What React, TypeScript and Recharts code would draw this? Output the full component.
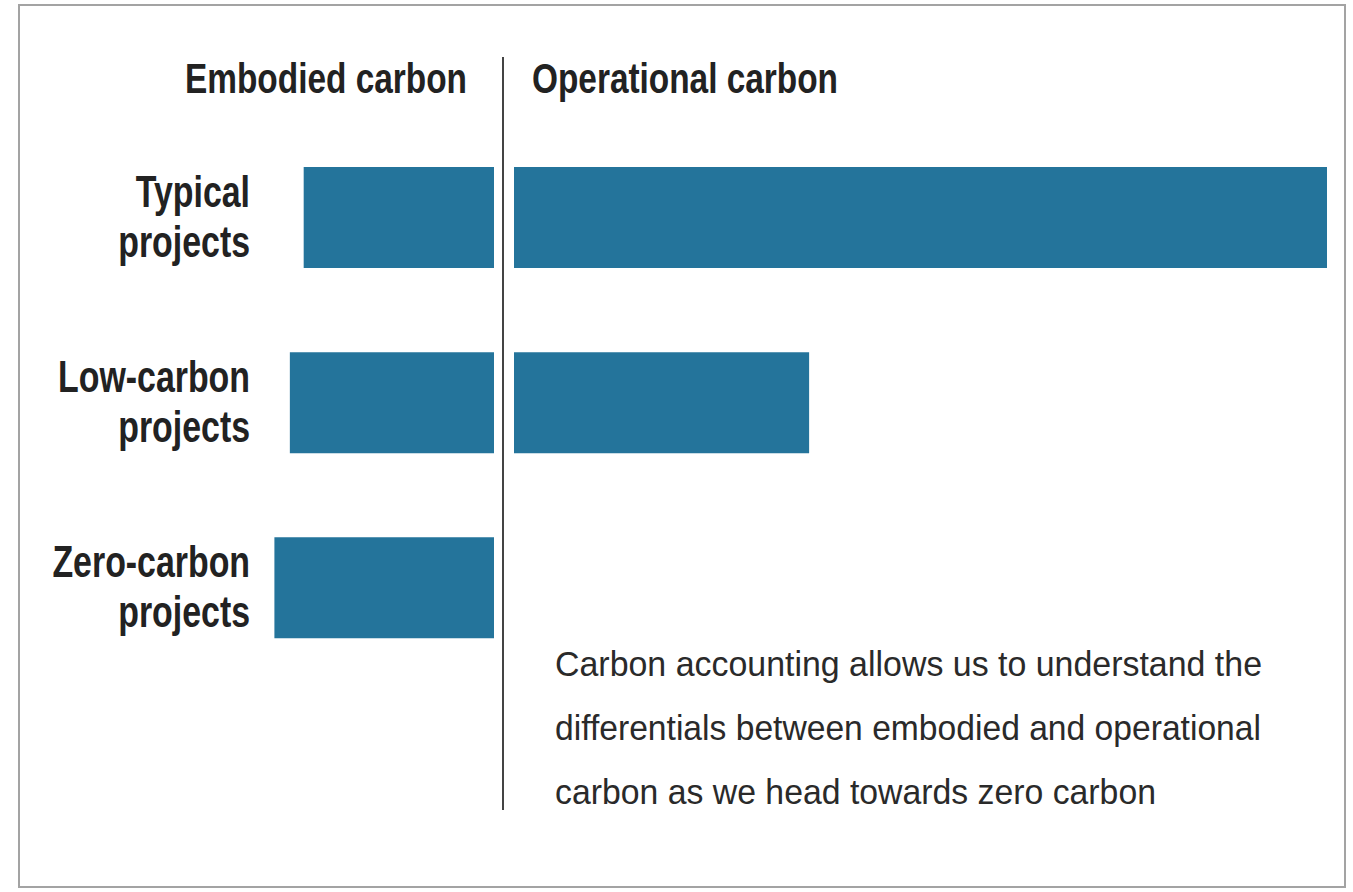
import React from 'react';
import { BarChart, Bar, XAxis, YAxis } from 'recharts';

const categories = ['Typical projects', 'Low-carbon projects', 'Zero-carbon projects'];
const categoryLines: string[][] = [
  ['Typical', 'projects'],
  ['Low-carbon', 'projects'],
  ['Zero-carbon', 'projects'],
];
const embodied = [23.4, 25.1, 27.0];
const operational = [100, 36.3, 0];
const headings = ['Embodied carbon', 'Operational carbon'];
const noteLines = [
  'Carbon accounting allows us to understand the',
  'differentials between embodied and operational',
  'carbon as we head towards zero carbon',
];

const data = categories.map((c, i) => ({
  category: c,
  embodied: embodied[i],
  operational: operational[i],
}));

const BAR = '#24749b';
const FONT = '"Liberation Sans Narrow", "Liberation Sans", Arial, sans-serif';

const CategoryTick = (props: any) => {
  const { x, y, payload } = props;
  const idx = categories.indexOf(payload.value);
  const lines = idx >= 0 ? categoryLines[idx] : [String(payload.value)];
  return (
    <g transform={`translate(${x},${y})`}>
      <text
        transform="scale(0.77,1)"
        textAnchor="end"
        fontFamily={FONT}
        fontWeight="bold"
        fontSize={44}
        fill="#222"
      >
        <tspan x={0} y={-11}>{lines[0]}</tspan>
        {lines[1] && <tspan x={0} y={39}>{lines[1]}</tspan>}
      </text>
    </g>
  );
};

const TOP = 124.9;
const BOTTOM = 892 - 680.6;

export default function App() {
  return (
    <div style={{ position: 'absolute', left: 0, top: 0, width: 1353, height: 892, background: '#fff' }}>
      <svg width={1353} height={892} style={{ position: 'absolute', left: 0, top: 0 }}>
        <rect x={19} y={5} width={1326} height={882} fill="none" stroke="#a3a3a3" strokeWidth={2} />
      </svg>
      <div style={{ position: 'absolute', left: 0, top: 0 }}>
        <BarChart
          width={503}
          height={892}
          data={data}
          layout="vertical"
          margin={{ top: TOP, bottom: BOTTOM, left: 0, right: 9 }}
          barSize={101}
        >
          <XAxis type="number" domain={[0, 30]} reversed hide />
          <YAxis
            type="category"
            dataKey="category"
            width={250}
            axisLine={false}
            tickLine={false}
            tickSize={0}
            tickMargin={0}
            tick={<CategoryTick />}
            interval={0}
          />
          <Bar dataKey="embodied" fill={BAR} isAnimationActive={false} />
        </BarChart>
      </div>
      <div style={{ position: 'absolute', left: 503, top: 0 }}>
        <BarChart
          width={850}
          height={892}
          data={data}
          layout="vertical"
          margin={{ top: TOP, bottom: BOTTOM, left: 11, right: 26 }}
          barSize={101}
        >
          <XAxis type="number" domain={[0, 100]} hide />
          <YAxis type="category" dataKey="category" hide />
          <Bar dataKey="operational" fill={BAR} isAnimationActive={false} />
        </BarChart>
      </div>
      <svg width={1353} height={892} style={{ position: 'absolute', left: 0, top: 0, pointerEvents: 'none' }}>
        <line x1={503} y1={57} x2={503} y2={810} stroke="#444" strokeWidth={2} />
        <text x={185} y={93} fontFamily={FONT} fontWeight="bold" fontSize={43} fill="#222"
          textLength={282} lengthAdjust="spacingAndGlyphs">{headings[0]}</text>
        <text x={532} y={93} fontFamily={FONT} fontWeight="bold" fontSize={43} fill="#222"
          textLength={306} lengthAdjust="spacingAndGlyphs">{headings[1]}</text>
        {noteLines.map((t, i) => (
          <text key={i} x={555} y={676 + i * 64} fontFamily={FONT} fontSize={35} fill="#2a2a2a"
            textLength={[707, 706, 601][i]} lengthAdjust="spacingAndGlyphs">{t}</text>
        ))}
      </svg>
    </div>
  );
}
